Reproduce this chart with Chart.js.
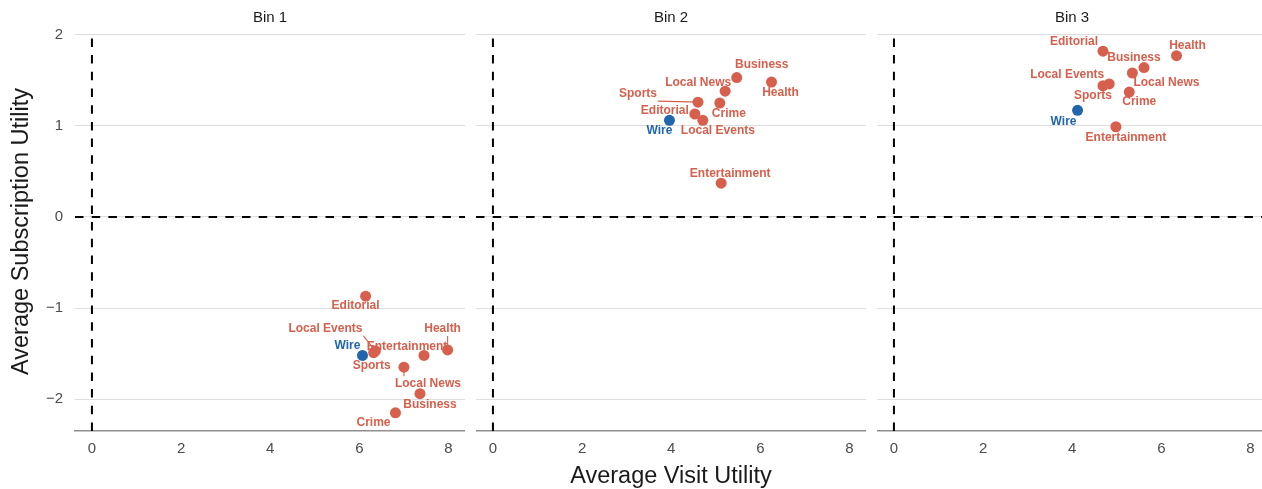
<!DOCTYPE html>
<html>
<head>
<meta charset="utf-8">
<script src="https://cdn.jsdelivr.net/npm/chart.js@4/dist/chart.umd.min.js"></script>
<style>
  html, body { margin: 0; padding: 0; background: #ffffff; overflow: hidden; }
  #wrap { position: relative; width: 1262px; height: 489px; overflow: hidden; background: #ffffff; }
  #wrap canvas { position: absolute; top: 0; }
</style>
</head>
<body>
<div id="wrap">
  <canvas id="bin1" width="465" height="489" style="left:0px"></canvas>
  <canvas id="bin2" width="390" height="489" style="left:476px"></canvas>
  <canvas id="bin3" width="390" height="489" style="left:877px"></canvas>
</div>
<script>
// News sections, in the same order as every value array below
const sections = ['Editorial', 'Wire', 'Local Events', 'Sports', 'Entertainment',
                  'Health', 'Local News', 'Business', 'Crime'];

// Bin 1
const bin1Visit = [6.14, 6.07, 6.36, 6.32, 7.45, 7.98, 7.00, 7.36, 6.81];
const bin1Subscription = [-0.87, -1.52, -1.47, -1.49, -1.52, -1.46, -1.65, -1.94, -2.15];

// Bin 2
const bin2Visit = [4.53, 3.96, 4.71, 4.60, 5.12, 6.25, 5.21, 5.47, 5.09];
const bin2Subscription = [1.13, 1.06, 1.06, 1.26, 0.37, 1.48, 1.38, 1.53, 1.25];

// Bin 3
const bin3Visit = [4.69, 4.12, 4.83, 4.69, 4.98, 6.34, 5.35, 5.61, 5.28];
const bin3Subscription = [1.82, 1.17, 1.46, 1.44, 0.99, 1.77, 1.58, 1.64, 1.37];

const binTitles = ['Bin 1', 'Bin 2', 'Bin 3'];
const xTicks = [0, 2, 4, 6, 8];
const yTicks = [-2, -1, 0, 1, 2];
const highlighted = 'Wire';

// Shared axis limits for all facets
const X_MIN = -0.38, X_MAX = 8.37;
const Y_MIN = -2.35, Y_MAX = 2.03;

const RED = '#d6604d';
const BLUE = '#2166ac';
const FONT = "'Liberation Sans', Arial, Helvetica, sans-serif";

// Label placement (pixel offset of the label centre from its point; leader = draw a segment)
const labelPlacement = {
  bin1: {
    'Editorial': [-10, 10], 'Wire': [-15, -10], 'Local Events': [-50, -22, true],
    'Sports': [-2, 13], 'Entertainment': [-17, -9], 'Health': [-5, -21, true],
    'Local News': [24, 16, true], 'Business': [10, 11], 'Crime': [-22, 10]
  },
  bin2: {
    'Editorial': [-30, -3], 'Wire': [-10, 10], 'Local Events': [15, 10],
    'Sports': [-60, -8, true], 'Entertainment': [9, -10], 'Health': [9, 11],
    'Local News': [-27, -9], 'Business': [25, -13], 'Crime': [9, 11]
  },
  bin3: {
    'Editorial': [-29, -9], 'Wire': [-14, 11], 'Local Events': [-42, -9],
    'Sports': [-10, 10], 'Entertainment': [10, 11], 'Health': [11, -10],
    'Local News': [34, 10], 'Business': [-10, -10], 'Crime': [10, 10]
  }
};

const LABEL_FONT = "bold 12px " + FONT;

function labelBox(ctx, text, cx, cy) {
  ctx.font = LABEL_FONT;
  const w = ctx.measureText(text).width;
  return { l: cx - w / 2 - 1, r: cx + w / 2 + 1, t: cy - 7, b: cy + 7 };
}

// Dashed reference lines at zero on both axes
const zeroLines = {
  id: 'zeroLines',
  beforeDatasetsDraw(chart) {
    const { ctx, chartArea, scales } = chart;
    const x0 = scales.x.getPixelForValue(0);
    const y0 = scales.y.getPixelForValue(0);
    ctx.save();
    ctx.beginPath();
    ctx.rect(chartArea.left, chartArea.top, chartArea.right - chartArea.left, chartArea.bottom - chartArea.top);
    ctx.clip();
    ctx.strokeStyle = '#000000';
    ctx.lineWidth = 2;
    ctx.lineCap = 'butt';
    ctx.setLineDash([8.5, 8.2]);
    ctx.beginPath();
    ctx.moveTo(chartArea.left, y0);
    ctx.lineTo(chartArea.right, y0);
    ctx.stroke();
    ctx.beginPath();
    ctx.moveTo(x0, chartArea.bottom);
    ctx.lineTo(x0, chartArea.top);
    ctx.stroke();
    ctx.restore();
  }
};

// Section names next to each point, with leader segments where labels sit far away
const pointLabels = {
  id: 'pointLabels',
  beforeDatasetsDraw(chart) {
    const { ctx } = chart;
    const place = labelPlacement[chart.options.plugins.pointLabels.key];
    ctx.save();
    chart.data.datasets.forEach((ds, i) => {
      const meta = chart.getDatasetMeta(i);
      meta.data.forEach((el, j) => {
        const name = ds.names[j];
        const p = place[name];
        if (!p || !p[2]) return;
        const cx = el.x + p[0], cy = el.y + p[1];
        const box = labelBox(ctx, name, cx, cy);
        const ex = Math.min(Math.max(el.x, box.l), box.r);
        const ey = Math.min(Math.max(el.y, box.t), box.b);
        ctx.strokeStyle = ds.backgroundColor;
        ctx.lineWidth = 1.1;
        ctx.beginPath();
        ctx.moveTo(el.x, el.y);
        ctx.lineTo(ex, ey);
        ctx.stroke();
      });
    });
    ctx.restore();
  },
  afterDatasetsDraw(chart) {
    const { ctx } = chart;
    const place = labelPlacement[chart.options.plugins.pointLabels.key];
    ctx.save();
    ctx.font = LABEL_FONT;
    ctx.textAlign = 'center';
    ctx.textBaseline = 'middle';
    chart.data.datasets.forEach((ds, i) => {
      const meta = chart.getDatasetMeta(i);
      meta.data.forEach((el, j) => {
        const name = ds.names[j];
        const p = place[name] || [0, -12];
        ctx.fillStyle = ds.backgroundColor;
        ctx.fillText(name, el.x + p[0], el.y + p[1]);
      });
    });
    ctx.restore();
  }
};

function splitSeries(visit, subscription, keepHighlighted) {
  const pts = [], names = [];
  sections.forEach((s, i) => {
    if ((s === highlighted) === keepHighlighted) {
      pts.push({ x: visit[i], y: subscription[i] });
      names.push(s);
    }
  });
  return { pts, names };
}

function minusSign(v) {
  return v < 0 ? '\u2212' + Math.abs(v) : String(v);
}

function makeFacet(canvasId, key, title, visit, subscription, opts) {
  const others = splitSeries(visit, subscription, false);
  const wire = splitSeries(visit, subscription, true);
  return new Chart(document.getElementById(canvasId), {
    type: 'scatter',
    data: {
      datasets: [
        { label: 'Other sections', data: others.pts, names: others.names,
          backgroundColor: RED, borderColor: RED, pointRadius: 5.5, pointHoverRadius: 5.5, borderWidth: 0 },
        { label: highlighted, data: wire.pts, names: wire.names,
          backgroundColor: BLUE, borderColor: BLUE, pointRadius: 5.5, pointHoverRadius: 5.5, borderWidth: 0 }
      ]
    },
    options: {
      responsive: false,
      animation: false,
      events: [],
      layout: { padding: 0, autoPadding: false },
      plugins: {
        legend: { display: false },
        tooltip: { enabled: false },
        title: {
          display: true, text: title, fullSize: false, color: '#1a1a1a',
          font: { family: FONT, size: 15, weight: 'normal', lineHeight: 1.2 },
          padding: { top: 9, bottom: 5 }
        },
        pointLabels: { key: key }
      },
      scales: {
        x: {
          type: 'linear', position: 'bottom', min: X_MIN, max: X_MAX,
          afterBuildTicks(scale) { scale.ticks = xTicks.map(v => ({ value: v })); },
          afterFit(scale) { scale.height = 58; },
          grid: { display: false, drawTicks: false },
          border: { display: true, color: '#8f8f8f', width: 1.5 },
          ticks: { includeBounds: false, padding: 9, color: '#4d4d4d', maxRotation: 0,
                   font: { family: FONT, size: 15 } },
          title: {
            display: !!opts.xTitle, text: 'Average Visit Utility', color: '#1a1a1a',
            font: { family: FONT, size: 23.5, lineHeight: 1.1 }, padding: { top: 0, bottom: 0 }
          }
        },
        y: {
          type: 'linear', position: 'left', min: Y_MIN, max: Y_MAX,
          afterBuildTicks(scale) { scale.ticks = yTicks.map(v => ({ value: v })); },
          afterFit(scale) { scale.width = opts.yAxis ? 75 : 0; },
          grid: { display: true, drawTicks: false, color: '#dedede', lineWidth: 1 },
          border: { display: false },
          ticks: { display: !!opts.yAxis, includeBounds: false, padding: 12, color: '#4d4d4d',
                   font: { family: FONT, size: 15 }, callback: v => minusSign(v) },
          title: {
            display: !!opts.yAxis, text: 'Average Subscription Utility', color: '#1a1a1a',
            font: { family: FONT, size: 23.5, lineHeight: 1.1 }, padding: { top: 9, bottom: 0 }
          }
        }
      }
    },
    plugins: [zeroLines, pointLabels]
  });
}

makeFacet('bin1', 'bin1', binTitles[0], bin1Visit, bin1Subscription, { yAxis: true });
makeFacet('bin2', 'bin2', binTitles[1], bin2Visit, bin2Subscription, { xTitle: true });
makeFacet('bin3', 'bin3', binTitles[2], bin3Visit, bin3Subscription, {});
</script>
</body>
</html>
